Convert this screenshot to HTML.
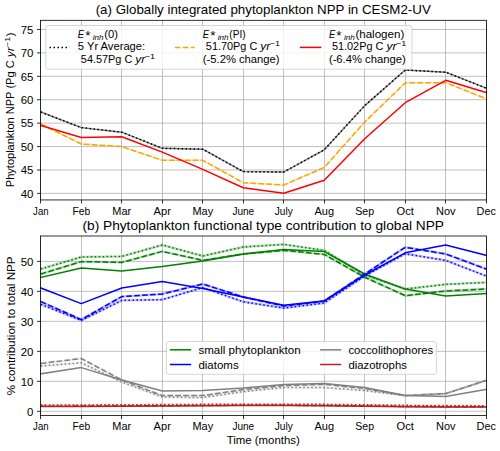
<!DOCTYPE html><html><head><meta charset="utf-8"><style>html,body{margin:0;padding:0;background:#fff;}svg{display:block;}text{font-family:"Liberation Sans",sans-serif;fill:#000;}</style></head><body>
<svg width="500" height="451" viewBox="0 0 500 451">
<rect width="500" height="451" fill="#fff"/>
<line x1="40.50" y1="20.3" x2="40.50" y2="199.95" stroke="#b0b0b0" stroke-width="0.8"/>
<line x1="81.50" y1="20.3" x2="81.50" y2="199.95" stroke="#b0b0b0" stroke-width="0.8"/>
<line x1="121.50" y1="20.3" x2="121.50" y2="199.95" stroke="#b0b0b0" stroke-width="0.8"/>
<line x1="162.50" y1="20.3" x2="162.50" y2="199.95" stroke="#b0b0b0" stroke-width="0.8"/>
<line x1="202.50" y1="20.3" x2="202.50" y2="199.95" stroke="#b0b0b0" stroke-width="0.8"/>
<line x1="243.50" y1="20.3" x2="243.50" y2="199.95" stroke="#b0b0b0" stroke-width="0.8"/>
<line x1="283.50" y1="20.3" x2="283.50" y2="199.95" stroke="#b0b0b0" stroke-width="0.8"/>
<line x1="324.50" y1="20.3" x2="324.50" y2="199.95" stroke="#b0b0b0" stroke-width="0.8"/>
<line x1="364.50" y1="20.3" x2="364.50" y2="199.95" stroke="#b0b0b0" stroke-width="0.8"/>
<line x1="405.50" y1="20.3" x2="405.50" y2="199.95" stroke="#b0b0b0" stroke-width="0.8"/>
<line x1="445.50" y1="20.3" x2="445.50" y2="199.95" stroke="#b0b0b0" stroke-width="0.8"/>
<line x1="486.50" y1="20.3" x2="486.50" y2="199.95" stroke="#b0b0b0" stroke-width="0.8"/>
<line x1="40.5" y1="193.38" x2="486.5" y2="193.38" stroke="#b0b0b0" stroke-width="0.8"/>
<line x1="40.5" y1="169.96" x2="486.5" y2="169.96" stroke="#b0b0b0" stroke-width="0.8"/>
<line x1="40.5" y1="146.55" x2="486.5" y2="146.55" stroke="#b0b0b0" stroke-width="0.8"/>
<line x1="40.5" y1="123.13" x2="486.5" y2="123.13" stroke="#b0b0b0" stroke-width="0.8"/>
<line x1="40.5" y1="99.72" x2="486.5" y2="99.72" stroke="#b0b0b0" stroke-width="0.8"/>
<line x1="40.5" y1="76.30" x2="486.5" y2="76.30" stroke="#b0b0b0" stroke-width="0.8"/>
<line x1="40.5" y1="52.89" x2="486.5" y2="52.89" stroke="#b0b0b0" stroke-width="0.8"/>
<line x1="40.5" y1="29.47" x2="486.5" y2="29.47" stroke="#b0b0b0" stroke-width="0.8"/>
<polyline points="40.82,112.00 81.31,127.60 121.80,132.20 162.29,148.30 202.78,149.20 243.27,171.60 283.76,172.00 324.25,149.80 364.74,105.60 405.23,70.00 445.72,72.20 486.21,88.20" fill="none" stroke="#000" stroke-opacity="0.5" stroke-width="1.4" stroke-linejoin="round"/>
<polyline points="40.82,112.00 81.31,127.60 121.80,132.20 162.29,148.30 202.78,149.20 243.27,171.60 283.76,172.00 324.25,149.80 364.74,105.60 405.23,70.00 445.72,72.20 486.21,88.20" fill="none" stroke="#000" stroke-width="1.5" stroke-linejoin="round" stroke-linecap="butt" stroke-dasharray="1.5 2.475"/>
<polyline points="40.82,124.00 81.31,144.00 121.80,146.60 162.29,160.30 202.78,160.30 243.27,182.70 283.76,185.00 324.25,167.50 364.74,122.00 405.23,82.90 445.72,82.60 486.21,98.80" fill="none" stroke="#ffa500" stroke-opacity="0.35" stroke-width="1.5" stroke-linejoin="round"/>
<polyline points="40.82,124.00 81.31,144.00 121.80,146.60 162.29,160.30 202.78,160.30 243.27,182.70 283.76,185.00 324.25,167.50 364.74,122.00 405.23,82.90 445.72,82.60 486.21,98.80" fill="none" stroke="#ffa500" stroke-width="1.5" stroke-linejoin="round" stroke-linecap="butt" stroke-dasharray="5.55 2.4"/>
<polyline points="40.82,125.50 81.31,137.50 121.80,136.80 162.29,152.10 202.78,169.40 243.27,187.70 283.76,193.20 324.25,180.20 364.74,138.80 405.23,102.70 445.72,80.30 486.21,92.60" fill="none" stroke="#ff0000" stroke-width="1.5" stroke-linejoin="round" stroke-linecap="square"/>
<rect x="40.5" y="20.3" width="446.0" height="179.64999999999998" fill="none" stroke="#000" stroke-width="0.8"/>
<line x1="40.50" y1="199.95" x2="40.50" y2="203.45" stroke="#000" stroke-width="0.8"/>
<line x1="81.50" y1="199.95" x2="81.50" y2="203.45" stroke="#000" stroke-width="0.8"/>
<line x1="121.50" y1="199.95" x2="121.50" y2="203.45" stroke="#000" stroke-width="0.8"/>
<line x1="162.50" y1="199.95" x2="162.50" y2="203.45" stroke="#000" stroke-width="0.8"/>
<line x1="202.50" y1="199.95" x2="202.50" y2="203.45" stroke="#000" stroke-width="0.8"/>
<line x1="243.50" y1="199.95" x2="243.50" y2="203.45" stroke="#000" stroke-width="0.8"/>
<line x1="283.50" y1="199.95" x2="283.50" y2="203.45" stroke="#000" stroke-width="0.8"/>
<line x1="324.50" y1="199.95" x2="324.50" y2="203.45" stroke="#000" stroke-width="0.8"/>
<line x1="364.50" y1="199.95" x2="364.50" y2="203.45" stroke="#000" stroke-width="0.8"/>
<line x1="405.50" y1="199.95" x2="405.50" y2="203.45" stroke="#000" stroke-width="0.8"/>
<line x1="445.50" y1="199.95" x2="445.50" y2="203.45" stroke="#000" stroke-width="0.8"/>
<line x1="486.50" y1="199.95" x2="486.50" y2="203.45" stroke="#000" stroke-width="0.8"/>
<line x1="37.0" y1="193.38" x2="40.5" y2="193.38" stroke="#000" stroke-width="0.8"/>
<line x1="37.0" y1="169.96" x2="40.5" y2="169.96" stroke="#000" stroke-width="0.8"/>
<line x1="37.0" y1="146.55" x2="40.5" y2="146.55" stroke="#000" stroke-width="0.8"/>
<line x1="37.0" y1="123.13" x2="40.5" y2="123.13" stroke="#000" stroke-width="0.8"/>
<line x1="37.0" y1="99.72" x2="40.5" y2="99.72" stroke="#000" stroke-width="0.8"/>
<line x1="37.0" y1="76.30" x2="40.5" y2="76.30" stroke="#000" stroke-width="0.8"/>
<line x1="37.0" y1="52.89" x2="40.5" y2="52.89" stroke="#000" stroke-width="0.8"/>
<line x1="37.0" y1="29.47" x2="40.5" y2="29.47" stroke="#000" stroke-width="0.8"/>
<text x="40.82" y="214.75" font-size="10.6" text-anchor="middle" textLength="15.42" lengthAdjust="spacingAndGlyphs">Jan</text>
<text x="81.31" y="214.75" font-size="10.6" text-anchor="middle" textLength="17.71" lengthAdjust="spacingAndGlyphs">Feb</text>
<text x="121.80" y="214.75" font-size="10.6" text-anchor="middle" textLength="18.87" lengthAdjust="spacingAndGlyphs">Mar</text>
<text x="162.29" y="214.75" font-size="10.6" text-anchor="middle" textLength="17.30" lengthAdjust="spacingAndGlyphs">Apr</text>
<text x="202.78" y="214.75" font-size="10.6" text-anchor="middle" textLength="20.67" lengthAdjust="spacingAndGlyphs">May</text>
<text x="243.27" y="214.75" font-size="10.6" text-anchor="middle" textLength="21.78" lengthAdjust="spacingAndGlyphs">June</text>
<text x="283.76" y="214.75" font-size="10.6" text-anchor="middle" textLength="17.98" lengthAdjust="spacingAndGlyphs">July</text>
<text x="324.25" y="214.75" font-size="10.6" text-anchor="middle" textLength="19.53" lengthAdjust="spacingAndGlyphs">Aug</text>
<text x="364.74" y="214.75" font-size="10.6" text-anchor="middle" textLength="18.85" lengthAdjust="spacingAndGlyphs">Sep</text>
<text x="405.23" y="214.75" font-size="10.6" text-anchor="middle" textLength="17.29" lengthAdjust="spacingAndGlyphs">Oct</text>
<text x="445.72" y="214.75" font-size="10.6" text-anchor="middle" textLength="19.52" lengthAdjust="spacingAndGlyphs">Nov</text>
<text x="486.21" y="214.75" font-size="10.6" text-anchor="middle" textLength="19.35" lengthAdjust="spacingAndGlyphs">Dec</text>
<text x="33.50" y="197.58" font-size="10.6" text-anchor="end" textLength="12.72" lengthAdjust="spacingAndGlyphs">40</text>
<text x="33.50" y="174.16" font-size="10.6" text-anchor="end" textLength="12.72" lengthAdjust="spacingAndGlyphs">45</text>
<text x="33.50" y="150.75" font-size="10.6" text-anchor="end" textLength="12.72" lengthAdjust="spacingAndGlyphs">50</text>
<text x="33.50" y="127.33" font-size="10.6" text-anchor="end" textLength="12.72" lengthAdjust="spacingAndGlyphs">55</text>
<text x="33.50" y="103.92" font-size="10.6" text-anchor="end" textLength="12.72" lengthAdjust="spacingAndGlyphs">60</text>
<text x="33.50" y="80.50" font-size="10.6" text-anchor="end" textLength="12.72" lengthAdjust="spacingAndGlyphs">65</text>
<text x="33.50" y="57.09" font-size="10.6" text-anchor="end" textLength="12.72" lengthAdjust="spacingAndGlyphs">70</text>
<text x="33.50" y="33.67" font-size="10.6" text-anchor="end" textLength="12.72" lengthAdjust="spacingAndGlyphs">75</text>

<rect x="45.8" y="25.5" width="366.2" height="43.7" rx="2" ry="2" fill="#fff" fill-opacity="0.8" stroke="#cccccc" stroke-width="0.8"/>
<line x1="49.55" y1="47.4" x2="69.55" y2="47.4" stroke="#000" stroke-width="1.5" stroke-dasharray="1.5 2.475"/>
<line x1="174.8" y1="47.4" x2="194.8" y2="47.4" stroke="#ffa500" stroke-width="1.5" stroke-dasharray="5.55 2.4"/>
<line x1="300.6" y1="47.4" x2="320.6" y2="47.4" stroke="#ff0000" stroke-width="1.5" stroke-linecap="square"/>
<text x="77.80" y="38.20" font-size="10.6" text-anchor="start" textLength="6.32" lengthAdjust="spacingAndGlyphs" font-style="italic">E</text>
<text x="85.20" y="40.30" font-size="13.5" text-anchor="start">*</text>
<text x="92.80" y="39.80" font-size="7.4" text-anchor="start" textLength="10.82" lengthAdjust="spacingAndGlyphs" font-style="italic">inh</text>
<text x="104.30" y="38.20" font-size="10.6" text-anchor="start" textLength="13.67" lengthAdjust="spacingAndGlyphs">(0)</text>

<text x="77.80" y="49.70" font-size="10.6" text-anchor="start" textLength="67.37" lengthAdjust="spacingAndGlyphs">5 Yr Average:</text>

<text x="77.80" y="63.20" font-size="10.6" text-anchor="start" textLength="57.52" lengthAdjust="spacingAndGlyphs">&#160;54.57Pg&#160;C&#160;</text>
<text x="135.32" y="63.20" font-size="10.6" text-anchor="start" textLength="10.03" lengthAdjust="spacingAndGlyphs" font-style="italic">yr</text>
<text x="144.85" y="59.20" font-size="7.4" text-anchor="start" textLength="10.32" lengthAdjust="spacingAndGlyphs">&#8722;1</text>

<text x="202.80" y="38.20" font-size="10.6" text-anchor="start" textLength="6.32" lengthAdjust="spacingAndGlyphs" font-style="italic">E</text>
<text x="210.20" y="40.30" font-size="13.5" text-anchor="start">*</text>
<text x="217.80" y="39.80" font-size="7.4" text-anchor="start" textLength="10.82" lengthAdjust="spacingAndGlyphs" font-style="italic">inh</text>
<text x="229.30" y="38.20" font-size="10.6" text-anchor="start" textLength="16.28" lengthAdjust="spacingAndGlyphs">(PI)</text>

<text x="202.80" y="49.70" font-size="10.6" text-anchor="start" textLength="57.52" lengthAdjust="spacingAndGlyphs">&#160;51.70Pg&#160;C&#160;</text>
<text x="260.32" y="49.70" font-size="10.6" text-anchor="start" textLength="10.03" lengthAdjust="spacingAndGlyphs" font-style="italic">yr</text>
<text x="269.85" y="45.70" font-size="7.4" text-anchor="start" textLength="10.32" lengthAdjust="spacingAndGlyphs">&#8722;1</text>

<text x="202.80" y="63.20" font-size="10.6" text-anchor="start" textLength="76.80" lengthAdjust="spacingAndGlyphs">(-5.2% change)</text>

<text x="328.90" y="38.20" font-size="10.6" text-anchor="start" textLength="6.32" lengthAdjust="spacingAndGlyphs" font-style="italic">E</text>
<text x="336.30" y="40.30" font-size="13.5" text-anchor="start">*</text>
<text x="343.90" y="39.80" font-size="7.4" text-anchor="start" textLength="10.82" lengthAdjust="spacingAndGlyphs" font-style="italic">inh</text>
<text x="355.40" y="38.20" font-size="10.6" text-anchor="start" textLength="48.90" lengthAdjust="spacingAndGlyphs">(halogen)</text>

<text x="328.90" y="49.70" font-size="10.6" text-anchor="start" textLength="57.52" lengthAdjust="spacingAndGlyphs">&#160;51.02Pg&#160;C&#160;</text>
<text x="386.42" y="49.70" font-size="10.6" text-anchor="start" textLength="10.03" lengthAdjust="spacingAndGlyphs" font-style="italic">yr</text>
<text x="395.95" y="45.70" font-size="7.4" text-anchor="start" textLength="10.32" lengthAdjust="spacingAndGlyphs">&#8722;1</text>

<text x="328.90" y="63.20" font-size="10.6" text-anchor="start" textLength="76.80" lengthAdjust="spacingAndGlyphs">(-6.4% change)</text>

<text x="263.25" y="14.00" font-size="12.7" text-anchor="middle" textLength="335.12" lengthAdjust="spacingAndGlyphs">(a) Globally integrated phytoplankton NPP in CESM2-UV</text>

<text x="263.25" y="230.20" font-size="12.7" text-anchor="middle" textLength="361.52" lengthAdjust="spacingAndGlyphs">(b) Phytoplankton functional type contribution to global NPP</text>

<g transform="translate(13.6,187.13) rotate(-90)"><text x="0.00" y="0.00" font-size="10.6" text-anchor="start" textLength="129.80" lengthAdjust="spacingAndGlyphs">Phytoplankton&#160;NPP&#160;(Pg&#160;C&#160;</text>
<text x="129.80" y="0.00" font-size="10.6" text-anchor="start" textLength="10.03" lengthAdjust="spacingAndGlyphs" font-style="italic">yr</text>
<text x="140.13" y="-4.00" font-size="7.4" text-anchor="start" textLength="10.32" lengthAdjust="spacingAndGlyphs">&#8722;1</text>
<text x="150.75" y="0.00" font-size="10.6" text-anchor="start" textLength="3.90" lengthAdjust="spacingAndGlyphs">)</text>
</g>
<g transform="translate(14.8,325.9) rotate(-90)"><text x="0.00" y="0.00" font-size="10.6" text-anchor="middle" textLength="138.87" lengthAdjust="spacingAndGlyphs">% contribution to total NPP</text>
</g>
<text x="263.25" y="444.30" font-size="10.6" text-anchor="middle" textLength="73.12" lengthAdjust="spacingAndGlyphs">Time (months)</text>

<line x1="40.50" y1="236.0" x2="40.50" y2="415.6" stroke="#b0b0b0" stroke-width="0.8"/>
<line x1="81.50" y1="236.0" x2="81.50" y2="415.6" stroke="#b0b0b0" stroke-width="0.8"/>
<line x1="121.50" y1="236.0" x2="121.50" y2="415.6" stroke="#b0b0b0" stroke-width="0.8"/>
<line x1="162.50" y1="236.0" x2="162.50" y2="415.6" stroke="#b0b0b0" stroke-width="0.8"/>
<line x1="202.50" y1="236.0" x2="202.50" y2="415.6" stroke="#b0b0b0" stroke-width="0.8"/>
<line x1="243.50" y1="236.0" x2="243.50" y2="415.6" stroke="#b0b0b0" stroke-width="0.8"/>
<line x1="283.50" y1="236.0" x2="283.50" y2="415.6" stroke="#b0b0b0" stroke-width="0.8"/>
<line x1="324.50" y1="236.0" x2="324.50" y2="415.6" stroke="#b0b0b0" stroke-width="0.8"/>
<line x1="364.50" y1="236.0" x2="364.50" y2="415.6" stroke="#b0b0b0" stroke-width="0.8"/>
<line x1="405.50" y1="236.0" x2="405.50" y2="415.6" stroke="#b0b0b0" stroke-width="0.8"/>
<line x1="445.50" y1="236.0" x2="445.50" y2="415.6" stroke="#b0b0b0" stroke-width="0.8"/>
<line x1="486.50" y1="236.0" x2="486.50" y2="415.6" stroke="#b0b0b0" stroke-width="0.8"/>
<line x1="40.5" y1="411.30" x2="486.5" y2="411.30" stroke="#b0b0b0" stroke-width="0.8"/>
<line x1="40.5" y1="381.32" x2="486.5" y2="381.32" stroke="#b0b0b0" stroke-width="0.8"/>
<line x1="40.5" y1="351.34" x2="486.5" y2="351.34" stroke="#b0b0b0" stroke-width="0.8"/>
<line x1="40.5" y1="321.36" x2="486.5" y2="321.36" stroke="#b0b0b0" stroke-width="0.8"/>
<line x1="40.5" y1="291.38" x2="486.5" y2="291.38" stroke="#b0b0b0" stroke-width="0.8"/>
<line x1="40.5" y1="261.40" x2="486.5" y2="261.40" stroke="#b0b0b0" stroke-width="0.8"/>
<polyline points="40.82,277.40 81.31,268.00 121.80,271.00 162.29,266.60 202.78,261.00 243.27,254.00 283.76,249.60 324.25,251.60 364.74,274.00 405.23,289.10 445.72,296.00 486.21,293.60" fill="none" stroke="#008000" stroke-width="1.5" stroke-linejoin="round" stroke-linecap="square"/>
<polyline points="40.82,274.00 81.31,261.60 121.80,262.40 162.29,251.40 202.78,260.40 243.27,254.00 283.76,250.40 324.25,254.40 364.74,277.20 405.23,295.70 445.72,291.00 486.21,289.00" fill="none" stroke="#008000" stroke-opacity="0.28" stroke-width="2.4" stroke-linejoin="round"/>
<polyline points="40.82,274.00 81.31,261.60 121.80,262.40 162.29,251.40 202.78,260.40 243.27,254.00 283.76,250.40 324.25,254.40 364.74,277.20 405.23,295.70 445.72,291.00 486.21,289.00" fill="none" stroke="#008000" stroke-width="1.5" stroke-linejoin="round" stroke-linecap="butt" stroke-dasharray="5.55 2.4"/>
<polyline points="40.82,269.00 81.31,257.00 121.80,256.40 162.29,245.00 202.78,256.00 243.27,247.00 283.76,244.40 324.25,250.40 364.74,275.00 405.23,289.00 445.72,284.40 486.21,282.40" fill="none" stroke="#008000" stroke-opacity="0.28" stroke-width="2.4" stroke-linejoin="round"/>
<polyline points="40.82,269.00 81.31,257.00 121.80,256.40 162.29,245.00 202.78,256.00 243.27,247.00 283.76,244.40 324.25,250.40 364.74,275.00 405.23,289.00 445.72,284.40 486.21,282.40" fill="none" stroke="#008000" stroke-width="1.5" stroke-linejoin="round" stroke-linecap="butt" stroke-dasharray="1.5 2.475"/>
<polyline points="40.82,288.00 81.31,303.60 121.80,288.00 162.29,281.60 202.78,288.40 243.27,297.00 283.76,305.30 324.25,301.00 364.74,275.00 405.23,252.80 445.72,245.00 486.21,255.40" fill="none" stroke="#0000ff" stroke-width="1.5" stroke-linejoin="round" stroke-linecap="square"/>
<polyline points="40.82,301.60 81.31,319.60 121.80,296.60 162.29,294.00 202.78,284.00 243.27,297.00 283.76,306.00 324.25,301.00 364.74,274.00 405.23,247.30 445.72,254.00 486.21,269.00" fill="none" stroke="#0000ff" stroke-opacity="0.25" stroke-width="2.4" stroke-linejoin="round"/>
<polyline points="40.82,301.60 81.31,319.60 121.80,296.60 162.29,294.00 202.78,284.00 243.27,297.00 283.76,306.00 324.25,301.00 364.74,274.00 405.23,247.30 445.72,254.00 486.21,269.00" fill="none" stroke="#0000ff" stroke-width="1.5" stroke-linejoin="round" stroke-linecap="butt" stroke-dasharray="5.55 2.4"/>
<polyline points="40.82,304.40 81.31,320.40 121.80,300.40 162.29,299.60 202.78,287.60 243.27,301.80 283.76,308.10 324.25,303.00 364.74,276.00 405.23,253.80 445.72,260.40 486.21,276.00" fill="none" stroke="#0000ff" stroke-opacity="0.25" stroke-width="2.4" stroke-linejoin="round"/>
<polyline points="40.82,304.40 81.31,320.40 121.80,300.40 162.29,299.60 202.78,287.60 243.27,301.80 283.76,308.10 324.25,303.00 364.74,276.00 405.23,253.80 445.72,260.40 486.21,276.00" fill="none" stroke="#0000ff" stroke-width="1.5" stroke-linejoin="round" stroke-linecap="butt" stroke-dasharray="1.5 2.475"/>
<polyline points="40.82,373.80 81.31,367.60 121.80,380.00 162.29,391.00 202.78,390.40 243.27,388.00 283.76,384.40 324.25,383.60 364.74,387.50 405.23,395.60 445.72,396.40 486.21,389.40" fill="none" stroke="#808080" stroke-width="1.5" stroke-linejoin="round" stroke-linecap="square"/>
<polyline points="40.82,363.50 81.31,358.50 121.80,380.00 162.29,395.60 202.78,395.60 243.27,389.60 283.76,385.60 324.25,384.40 364.74,388.50 405.23,395.60 445.72,393.60 486.21,380.40" fill="none" stroke="#808080" stroke-opacity="0.15" stroke-width="2.4" stroke-linejoin="round"/>
<polyline points="40.82,363.50 81.31,358.50 121.80,380.00 162.29,395.60 202.78,395.60 243.27,389.60 283.76,385.60 324.25,384.40 364.74,388.50 405.23,395.60 445.72,393.60 486.21,380.40" fill="none" stroke="#808080" stroke-width="1.5" stroke-linejoin="round" stroke-linecap="butt" stroke-dasharray="5.55 2.4"/>
<polyline points="40.82,366.00 81.31,362.80 121.80,382.00 162.29,397.00 202.78,397.60 243.27,391.60 283.76,387.60 324.25,387.60 364.74,390.50 405.23,395.60 445.72,393.60 486.21,380.40" fill="none" stroke="#808080" stroke-opacity="0.15" stroke-width="2.4" stroke-linejoin="round"/>
<polyline points="40.82,366.00 81.31,362.80 121.80,382.00 162.29,397.00 202.78,397.60 243.27,391.60 283.76,387.60 324.25,387.60 364.74,390.50 405.23,395.60 445.72,393.60 486.21,380.40" fill="none" stroke="#808080" stroke-width="1.5" stroke-linejoin="round" stroke-linecap="butt" stroke-dasharray="1.5 2.475"/>
<polyline points="40.82,406.50 81.31,406.40 121.80,406.20 162.29,406.00 202.78,405.80 243.27,405.60 283.76,405.60 324.25,405.80 364.74,406.20 405.23,406.80 445.72,407.00 486.21,407.10" fill="none" stroke="#b22222" stroke-width="1.5" stroke-linejoin="round" stroke-linecap="square"/>
<polyline points="40.82,406.20 81.31,406.10 121.80,405.90 162.29,405.70 202.78,405.50 243.27,405.30 283.76,405.30 324.25,405.50 364.74,405.90 405.23,406.50 445.72,406.70 486.21,406.80" fill="none" stroke="#b22222" stroke-opacity="0.2" stroke-width="1.5" stroke-linejoin="round"/>
<polyline points="40.82,406.20 81.31,406.10 121.80,405.90 162.29,405.70 202.78,405.50 243.27,405.30 283.76,405.30 324.25,405.50 364.74,405.90 405.23,406.50 445.72,406.70 486.21,406.80" fill="none" stroke="#b22222" stroke-width="1.5" stroke-linejoin="round" stroke-linecap="butt" stroke-dasharray="5.55 2.4"/>
<polyline points="40.82,405.05 81.31,404.95 121.80,404.75 162.29,404.55 202.78,404.35 243.27,404.15 283.76,404.15 324.25,404.35 364.74,404.75 405.23,405.35 445.72,405.55 486.21,405.65" fill="none" stroke="#b22222" stroke-opacity="0.15" stroke-width="1.5" stroke-linejoin="round"/>
<polyline points="40.82,405.05 81.31,404.95 121.80,404.75 162.29,404.55 202.78,404.35 243.27,404.15 283.76,404.15 324.25,404.35 364.74,404.75 405.23,405.35 445.72,405.55 486.21,405.65" fill="none" stroke="#b22222" stroke-width="1.5" stroke-linejoin="round" stroke-linecap="butt" stroke-dasharray="1.5 2.475"/>
<rect x="40.5" y="236.0" width="446.0" height="179.60000000000002" fill="none" stroke="#000" stroke-width="0.8"/>
<line x1="40.50" y1="415.6" x2="40.50" y2="419.1" stroke="#000" stroke-width="0.8"/>
<line x1="81.50" y1="415.6" x2="81.50" y2="419.1" stroke="#000" stroke-width="0.8"/>
<line x1="121.50" y1="415.6" x2="121.50" y2="419.1" stroke="#000" stroke-width="0.8"/>
<line x1="162.50" y1="415.6" x2="162.50" y2="419.1" stroke="#000" stroke-width="0.8"/>
<line x1="202.50" y1="415.6" x2="202.50" y2="419.1" stroke="#000" stroke-width="0.8"/>
<line x1="243.50" y1="415.6" x2="243.50" y2="419.1" stroke="#000" stroke-width="0.8"/>
<line x1="283.50" y1="415.6" x2="283.50" y2="419.1" stroke="#000" stroke-width="0.8"/>
<line x1="324.50" y1="415.6" x2="324.50" y2="419.1" stroke="#000" stroke-width="0.8"/>
<line x1="364.50" y1="415.6" x2="364.50" y2="419.1" stroke="#000" stroke-width="0.8"/>
<line x1="405.50" y1="415.6" x2="405.50" y2="419.1" stroke="#000" stroke-width="0.8"/>
<line x1="445.50" y1="415.6" x2="445.50" y2="419.1" stroke="#000" stroke-width="0.8"/>
<line x1="486.50" y1="415.6" x2="486.50" y2="419.1" stroke="#000" stroke-width="0.8"/>
<line x1="37.0" y1="411.30" x2="40.5" y2="411.30" stroke="#000" stroke-width="0.8"/>
<line x1="37.0" y1="381.32" x2="40.5" y2="381.32" stroke="#000" stroke-width="0.8"/>
<line x1="37.0" y1="351.34" x2="40.5" y2="351.34" stroke="#000" stroke-width="0.8"/>
<line x1="37.0" y1="321.36" x2="40.5" y2="321.36" stroke="#000" stroke-width="0.8"/>
<line x1="37.0" y1="291.38" x2="40.5" y2="291.38" stroke="#000" stroke-width="0.8"/>
<line x1="37.0" y1="261.40" x2="40.5" y2="261.40" stroke="#000" stroke-width="0.8"/>
<text x="40.82" y="430.40" font-size="10.6" text-anchor="middle" textLength="15.42" lengthAdjust="spacingAndGlyphs">Jan</text>
<text x="81.31" y="430.40" font-size="10.6" text-anchor="middle" textLength="17.71" lengthAdjust="spacingAndGlyphs">Feb</text>
<text x="121.80" y="430.40" font-size="10.6" text-anchor="middle" textLength="18.87" lengthAdjust="spacingAndGlyphs">Mar</text>
<text x="162.29" y="430.40" font-size="10.6" text-anchor="middle" textLength="17.30" lengthAdjust="spacingAndGlyphs">Apr</text>
<text x="202.78" y="430.40" font-size="10.6" text-anchor="middle" textLength="20.67" lengthAdjust="spacingAndGlyphs">May</text>
<text x="243.27" y="430.40" font-size="10.6" text-anchor="middle" textLength="21.78" lengthAdjust="spacingAndGlyphs">June</text>
<text x="283.76" y="430.40" font-size="10.6" text-anchor="middle" textLength="17.98" lengthAdjust="spacingAndGlyphs">July</text>
<text x="324.25" y="430.40" font-size="10.6" text-anchor="middle" textLength="19.53" lengthAdjust="spacingAndGlyphs">Aug</text>
<text x="364.74" y="430.40" font-size="10.6" text-anchor="middle" textLength="18.85" lengthAdjust="spacingAndGlyphs">Sep</text>
<text x="405.23" y="430.40" font-size="10.6" text-anchor="middle" textLength="17.29" lengthAdjust="spacingAndGlyphs">Oct</text>
<text x="445.72" y="430.40" font-size="10.6" text-anchor="middle" textLength="19.52" lengthAdjust="spacingAndGlyphs">Nov</text>
<text x="486.21" y="430.40" font-size="10.6" text-anchor="middle" textLength="19.35" lengthAdjust="spacingAndGlyphs">Dec</text>
<text x="33.50" y="415.50" font-size="10.6" text-anchor="end" textLength="6.36" lengthAdjust="spacingAndGlyphs">0</text>
<text x="33.50" y="385.52" font-size="10.6" text-anchor="end" textLength="12.72" lengthAdjust="spacingAndGlyphs">10</text>
<text x="33.50" y="355.54" font-size="10.6" text-anchor="end" textLength="12.72" lengthAdjust="spacingAndGlyphs">20</text>
<text x="33.50" y="325.56" font-size="10.6" text-anchor="end" textLength="12.72" lengthAdjust="spacingAndGlyphs">30</text>
<text x="33.50" y="295.58" font-size="10.6" text-anchor="end" textLength="12.72" lengthAdjust="spacingAndGlyphs">40</text>
<text x="33.50" y="265.60" font-size="10.6" text-anchor="end" textLength="12.72" lengthAdjust="spacingAndGlyphs">50</text>

<rect x="166.4" y="341.5" width="270" height="32.8" rx="2" ry="2" fill="#fff" fill-opacity="0.8" stroke="#cccccc" stroke-width="0.8"/>
<line x1="170.6" y1="349.8" x2="190.4" y2="349.8" stroke="#008000" stroke-width="1.5" stroke-linecap="square"/>
<line x1="170.6" y1="364.5" x2="190.4" y2="364.5" stroke="#0000ff" stroke-width="1.5" stroke-linecap="square"/>
<line x1="320.8" y1="349.8" x2="340.4" y2="349.8" stroke="#808080" stroke-width="1.5" stroke-linecap="square"/>
<line x1="320.8" y1="364.5" x2="340.4" y2="364.5" stroke="#b22222" stroke-width="1.5" stroke-linecap="square"/>
<text x="198.40" y="354.40" font-size="10.6" text-anchor="start" textLength="102.22" lengthAdjust="spacingAndGlyphs">small phytoplankton</text>

<text x="198.40" y="369.10" font-size="10.6" text-anchor="start" textLength="40.24" lengthAdjust="spacingAndGlyphs">diatoms</text>

<text x="348.40" y="354.40" font-size="10.6" text-anchor="start" textLength="84.72" lengthAdjust="spacingAndGlyphs">coccolithophores</text>

<text x="348.40" y="369.10" font-size="10.6" text-anchor="start" textLength="58.45" lengthAdjust="spacingAndGlyphs">diazotrophs</text>

</svg></body></html>
